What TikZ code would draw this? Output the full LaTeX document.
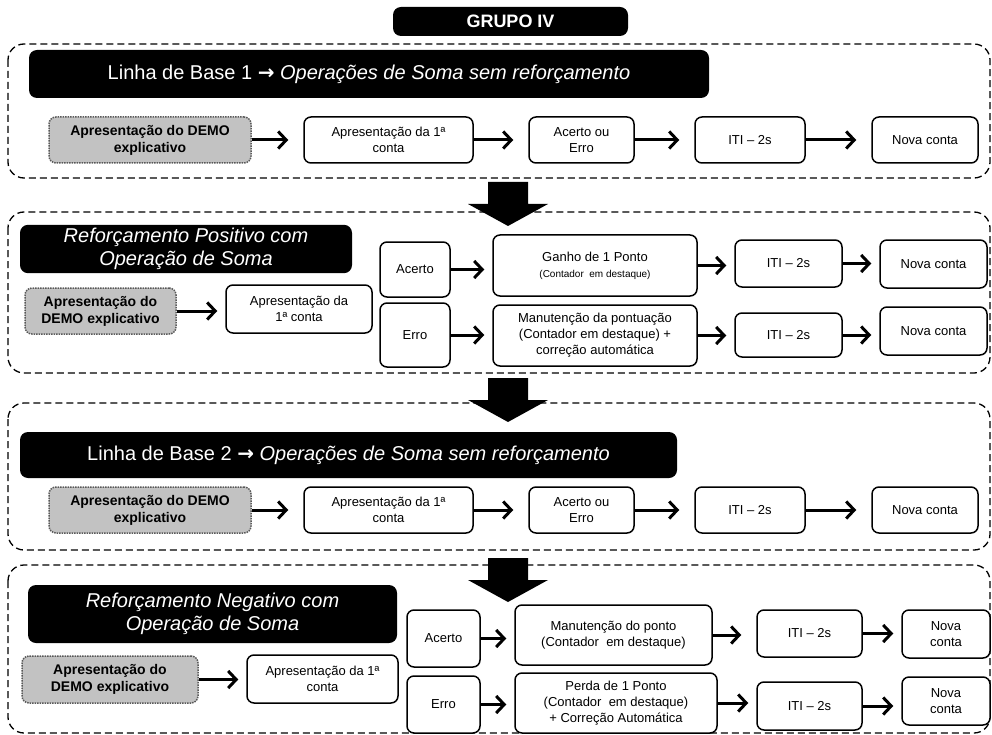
\documentclass[tikz,border=0pt]{standalone}
\usepackage{fontspec}
\setmainfont{Liberation Sans}
\newfontfamily\arrowfont{DejaVu Sans}
\usepackage{tikz}
\usetikzlibrary{arrows.meta}
\tikzstyle{box}=[draw, fill=white, rounded corners=7pt, line width=1.5pt, align=center, inner sep=2pt, font=\fontsize{13}{16}\selectfont]
\tikzstyle{demo}=[box, fill=black!24, draw=black!65, densely dotted, font=\fontsize{14}{17}\selectfont\bfseries]
\tikzstyle{header}=[fill=black, rounded corners=8pt, text=white, align=center, font=\fontsize{20}{23}\selectfont]
\tikzstyle{frame}=[dash pattern=on 7pt off 4pt, line width=1.3pt, rounded corners=16pt]
\tikzstyle{flow}=[line width=3pt, -{Straight Barb[length=8pt,width=17pt]}, shorten >=8pt]
\tikzstyle{flowwide}=[flow, shorten >=15pt]

\begin{document}
\begin{tikzpicture}[x=1pt, y=-1pt]
        \useasboundingbox (0,0) rectangle (992,735);
        \node[header, minimum width=235pt, minimum height=29pt, font=\fontsize{18}{20}\selectfont\bfseries] (grupo) at (510.5,21.5) {GRUPO IV};

        \draw[frame] (8,44) rectangle (990,178);
        \draw[frame] (8,212) rectangle (990,373);
        \draw[frame] (8,403) rectangle (990,550);
        \draw[frame] (8,565) rectangle (990,733);
        \foreach \y in {182,378,558}
            \fill (488,\y) -- (528,\y) -- (528,\y+22) -- (548,\y+22) -- (508,\y+44) -- (468,\y+22) -- (488,\y+22) -- cycle;

        \node[header, minimum width=680pt, minimum height=48pt] (base1) at (369,74) {Linha de Base 1 {\arrowfont\bfseries →} \textit{Operações de Soma sem reforçamento}};
        \node[demo, minimum width=202pt, minimum height=46pt] (demo1) at (150,140) {Apresentação do DEMO\\explicativo};
        \node[box, minimum width=169pt, minimum height=46pt] (apres1) at (388.5,140) {Apresentação da 1ª\\conta};
        \node[box, minimum width=105pt, minimum height=46pt] (resp1) at (581.5,140) {Acerto ou\\Erro};
        \node[box, minimum width=110pt, minimum height=46pt] (iti1) at (750,140) {ITI – 2s};
        \node[box, minimum width=106pt, minimum height=46pt] (nova1) at (925,140) {Nova conta};
        \draw[flowwide] (demo1) -- (apres1);
        \draw[flowwide] (apres1) -- (resp1);
        \draw[flowwide] (resp1) -- (iti1);
        \draw[flowwide] (iti1) -- (nova1);

        \node[header, minimum width=332pt, minimum height=48pt, font=\fontsize{20}{23}\selectfont\itshape] (pos) at (186,249) {Reforçamento Positivo com\\Operação de Soma};
        \node[demo, minimum width=151pt, minimum height=46pt] (demo2) at (100.5,311) {Apresentação do\\DEMO explicativo};
        \node[box, minimum width=146pt, minimum height=48pt] (apres2) at (299,309) {Apresentação da\\1ª conta};
        \node[box, minimum width=70pt, minimum height=55pt] (acerto2) at (415,269.5) {Acerto};
        \node[box, minimum width=70pt, minimum height=64pt] (erro2) at (415,335) {Erro};
        \node[box, minimum width=204pt, minimum height=61pt] (ganho) at (595,265.5) {Ganho de 1 Ponto\\{\fontsize{10}{12}\selectfont (Contador~~em destaque)}};
        \node[box, minimum width=204pt, minimum height=61pt] (manut2) at (595,335.5) {Manutenção da pontuação\\(Contador em destaque) +\\correção automática};
        \node[box, minimum width=107pt, minimum height=47pt] (iti2a) at (788.5,263.5) {ITI – 2s};
        \node[box, minimum width=107pt, minimum height=44pt] (iti2b) at (788.5,335) {ITI – 2s};
        \node[box, minimum width=107pt, minimum height=48pt] (nova2a) at (933.5,264) {Nova conta};
        \node[box, minimum width=107pt, minimum height=48pt] (nova2b) at (933.5,331) {Nova conta};
        \draw[flow] (demo2.east) -- (demo2.east -| apres2.west);
        \draw[flow] (acerto2.east) -- (acerto2.east -| ganho.west);
        \draw[flow] (erro2.east) -- (erro2.east -| manut2.west);
        \draw[flow] (ganho.east) -- (ganho.east -| iti2a.west);
        \draw[flow] (manut2.east) -- (manut2.east -| iti2b.west);
        \draw[flow] (iti2a.east) -- (iti2a.east -| nova2a.west);
        \draw[flow] (iti2b.east) -- (iti2b.east -| nova2b.west);

        \node[header, minimum width=657pt, minimum height=46pt] (base2) at (348.5,455) {Linha de Base 2 {\arrowfont\bfseries →} \textit{Operações de Soma sem reforçamento}};
        \node[demo, minimum width=202pt, minimum height=46pt] (demo3) at (150,510) {Apresentação do DEMO\\explicativo};
        \node[box, minimum width=169pt, minimum height=46pt] (apres3) at (388.5,510) {Apresentação da 1ª\\conta};
        \node[box, minimum width=105pt, minimum height=46pt] (resp3) at (581.5,510) {Acerto ou\\Erro};
        \node[box, minimum width=110pt, minimum height=46pt] (iti3) at (750,510) {ITI – 2s};
        \node[box, minimum width=106pt, minimum height=46pt] (nova3) at (925,510) {Nova conta};
        \draw[flowwide] (demo3) -- (apres3);
        \draw[flowwide] (apres3) -- (resp3);
        \draw[flowwide] (resp3) -- (iti3);
        \draw[flowwide] (iti3) -- (nova3);

        \node[header, minimum width=369pt, minimum height=58pt, font=\fontsize{20}{23}\selectfont\itshape] (neg) at (212.5,614) {Reforçamento Negativo com\\Operação de Soma};
        \node[demo, minimum width=176pt, minimum height=47pt] (demo4) at (110,679.5) {Apresentação do\\DEMO explicativo};
        \node[box, minimum width=151pt, minimum height=48pt] (apres4) at (322.5,679) {Apresentação da 1ª\\conta};
        \node[box, minimum width=73pt, minimum height=57pt] (acerto4) at (443.5,638.5) {Acerto};
        \node[box, minimum width=73pt, minimum height=57pt] (erro4) at (443.5,704.5) {Erro};
        \node[box, minimum width=197pt, minimum height=60pt] (manut4) at (613.5,635) {Manutenção do ponto\\(Contador~~em destaque)};
        \node[box, minimum width=202pt, minimum height=60pt] (perda) at (616,703) {Perda de 1 Ponto\\(Contador~~em destaque)\\+ Correção Automática};
        \node[box, minimum width=105pt, minimum height=47pt] (iti4a) at (809.5,633.5) {ITI – 2s};
        \node[box, minimum width=105pt, minimum height=48pt] (iti4b) at (809.5,706) {ITI – 2s};
        \node[box, minimum width=88pt, minimum height=48pt] (nova4a) at (946,634) {Nova\\conta};
        \node[box, minimum width=88pt, minimum height=48pt] (nova4b) at (946,701) {Nova\\conta};
        \draw[flow] (demo4.east) -- (demo4.east -| apres4.west);
        \draw[flow] (acerto4.east) -- (acerto4.east -| manut4.west);
        \draw[flow] (erro4.east) -- (erro4.east -| perda.west);
        \draw[flowwide] (manut4.east) -- (manut4.east -| iti4a.west);
        \draw[flow] (perda.east) -- (perda.east -| iti4b.west);
        \draw[flow] (iti4a.east) -- (iti4a.east -| nova4a.west);
        \draw[flow] (iti4b.east) -- (iti4b.east -| nova4b.west);
    \end{tikzpicture}
\end{document}
